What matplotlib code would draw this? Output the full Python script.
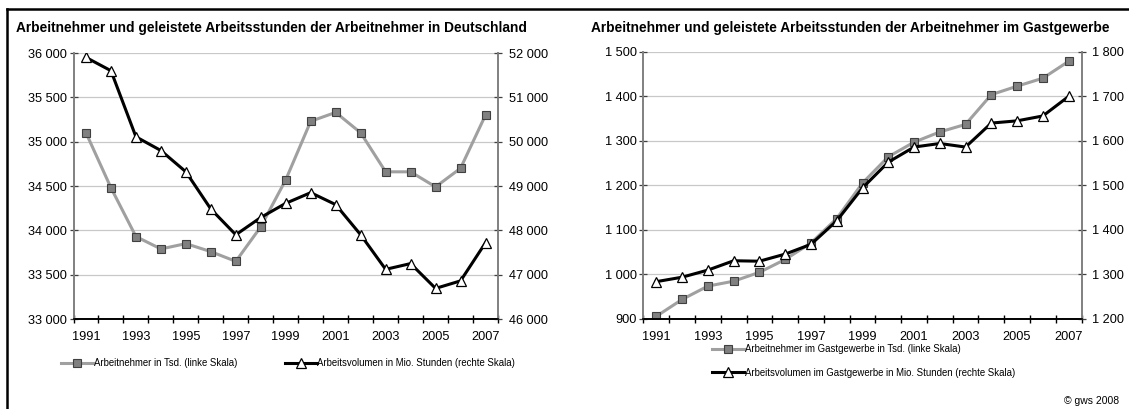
"""
Arbeitnehmer und Arbeitsvolumen: Deutschland vs. Gastgewerbe, 1991-2007.
Two Excel-style dual-axis line charts side by side, saved as out.png.
"""

import matplotlib.pyplot as plt
from matplotlib.ticker import FuncFormatter, FixedLocator
from matplotlib.lines import Line2D

plt.rcParams['font.family'] = ['Liberation Sans', 'DejaVu Sans']

years = list(range(1991, 2008))

# Deutschland
de_arbeitnehmer = [35100, 34480, 33930, 33790, 33850, 33760, 33650, 34040, 34570,
                   35230, 35330, 35100, 34660, 34660, 34490, 34700, 35300]
de_volumen = [51900, 51600, 50110, 49800, 49320, 48480, 47900, 48290, 48610,
              48850, 48580, 47900, 47120, 47250, 46690, 46860, 47720]

# Gastgewerbe
gg_arbeitnehmer = [905, 943, 973, 984, 1004, 1033, 1070, 1125, 1205,
                   1264, 1297, 1320, 1337, 1404, 1423, 1441, 1479]
gg_volumen = [1283, 1293, 1309, 1330, 1329, 1345, 1367, 1420, 1494,
              1552, 1586, 1594, 1586, 1640, 1645, 1656, 1700]

W, H = 1129, 409
fig = plt.figure(figsize=(W / 100, H / 100), dpi=100)

sep = FuncFormatter(lambda v, _: f"{v:,.0f}".replace(",", " "))
GRAY_LINE = '#a0a0a0'
SPINE = '#808080'


def px_box(x0, x1, ytop, ybot):
    return [x0 / W, 1 - ybot / H, (x1 - x0) / W, (ybot - ytop) / H]


def draw_panel(box, title, title_x, left, right, lylim, rylim, lstep, rstep,
               labels, legend_anchor, ncol, colspace):
    ax = fig.add_axes(px_box(*box))
    ax2 = ax.twinx()
    x = list(range(len(years)))

    l1, = ax.plot(x, left, color=GRAY_LINE, lw=2.2, marker='s', ms=6,
                  mfc='#808080', mec='#404040', mew=0.8)
    l2, = ax2.plot(x, right, color='black', lw=2.2, marker='^', ms=7,
                   mfc='white', mec='black', mew=0.9)

    ax.set_xlim(-0.5, len(years) - 0.5)
    ax.set_ylim(*lylim)
    ax2.set_ylim(*rylim)
    ax.set_yticks(range(lylim[0], lylim[1] + 1, lstep))
    ax2.set_yticks(range(rylim[0], rylim[1] + 1, rstep))
    ax.yaxis.set_major_formatter(sep)
    ax2.yaxis.set_major_formatter(sep)
    ax.yaxis.grid(True, color='#c8c8c8', lw=0.9)
    ax.set_axisbelow(True)

    ax.set_xticks(x[::2])
    ax.set_xticklabels([str(y) for y in years[::2]])
    ax.xaxis.set_minor_locator(FixedLocator([i - 0.5 for i in range(len(years) + 1)]))
    ax.tick_params(axis='x', which='major', length=0, pad=9, labelsize=9.2)
    ax.tick_params(axis='x', which='minor', direction='inout', length=6,
                   width=1, color='black')
    ax.tick_params(axis='y', direction='inout', length=5.5, width=0.9,
                   color='#404040', labelsize=9.2, pad=2)
    ax2.tick_params(axis='y', direction='inout', length=5.5, width=0.9,
                    color='#404040', labelsize=9.2, pad=5)

    for a in (ax, ax2):
        a.spines['top'].set_visible(False)
        a.spines['left'].set_color(SPINE)
        a.spines['right'].set_color(SPINE)
        a.spines['left'].set_linewidth(1.2)
        a.spines['right'].set_linewidth(1.2)
        a.spines['bottom'].set_color('black')
        a.spines['bottom'].set_linewidth(1.2)

    fig.text(title_x / W, 1 - 28 / H, title, fontsize=9.9, fontweight='bold',
             ha='left', va='center')

    ax2.legend([l1, l2], labels, loc='center left', ncol=ncol,
               bbox_to_anchor=legend_anchor, bbox_transform=fig.transFigure,
               frameon=False, fontsize=6.9, handlelength=3.3, handletextpad=0.1,
               borderpad=0, borderaxespad=0, columnspacing=colspace,
               labelspacing=1.4)


draw_panel((73.5, 498, 53, 319),
           "Arbeitnehmer und geleistete Arbeitsstunden der Arbeitnehmer in Deutschland", 16,
           de_arbeitnehmer, de_volumen, (33000, 36000), (46000, 52000), 500, 1000,
           ["Arbeitnehmer in Tsd. (linke Skala)",
            "Arbeitsvolumen in Mio. Stunden (rechte Skala)"],
           (61 / W, 1 - 363 / H), 2, 5.0)

draw_panel((643.5, 1081.5, 52, 318.5),
           "Arbeitnehmer und geleistete Arbeitsstunden der Arbeitnehmer im Gastgewerbe", 591,
           gg_arbeitnehmer, gg_volumen, (900, 1500), (1200, 1800), 100, 100,
           ["Arbeitnehmer im Gastgewerbe in Tsd. (linke Skala)",
            "Arbeitsvolumen im Gastgewerbe in Mio. Stunden (rechte Skala)"],
           (712 / W, 1 - 361 / H), 1, 1)

fig.text(1119 / W, 1 - 401 / H, "© gws 2008", fontsize=7.5, ha='right', va='center')

# L-shaped frame (left and top edges)
fig.add_artist(Line2D([6.5 / W, 6.5 / W], [0, 1 - 9 / H], color='black', lw=1.8,
                      transform=fig.transFigure))
fig.add_artist(Line2D([6.5 / W, 1], [1 - 9 / H, 1 - 9 / H], color='black', lw=1.8,
                      transform=fig.transFigure))

fig.savefig('out.png', dpi=100)
